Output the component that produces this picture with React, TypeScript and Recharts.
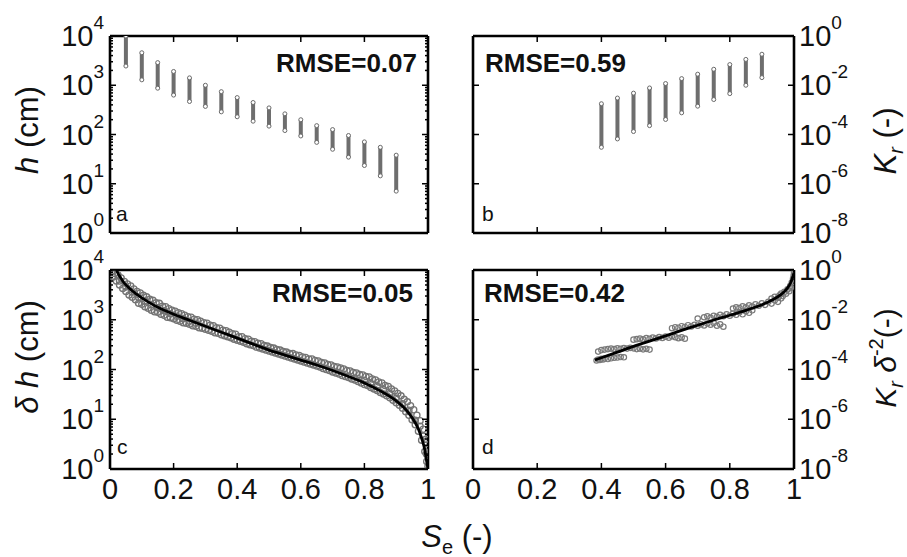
import React from 'react';
import { ComposedChart, Scatter, XAxis, YAxis } from 'recharts';

const FONT = '"Liberation Sans", Arial, Helvetica, sans-serif';

// ---- axis ticks ----
const seTicks = [0, 0.2, 0.4, 0.6, 0.8, 1];
const hDecades = [0, 1, 2, 3, 4];
const minorOffsets = [0.301, 0.477, 0.602, 0.699, 0.778, 0.845, 0.903, 0.954];
const krDecades = [-8, -6, -4, -2, 0];

// ---- panel a: h (log10 cm) vs Se, one column of points per Se ----
const aSe = [0.05, 0.1, 0.15, 0.2, 0.25, 0.3, 0.35, 0.4, 0.45, 0.5, 0.55, 0.6, 0.65, 0.7, 0.75, 0.8, 0.85, 0.9];
const aLogHigh = [4.0, 3.66, 3.46, 3.28, 3.15, 3.0, 2.87, 2.75, 2.65, 2.54, 2.42, 2.3, 2.18, 2.1, 1.98, 1.85, 1.74, 1.58];
const aLogLow = [3.39, 3.11, 2.94, 2.8, 2.67, 2.57, 2.46, 2.36, 2.27, 2.17, 2.08, 1.97, 1.84, 1.7, 1.54, 1.37, 1.16, 0.85];

// ---- panel b: Kr (log10) vs Se ----
const bSe = [0.4, 0.45, 0.5, 0.55, 0.6, 0.65, 0.7, 0.75, 0.8, 0.85, 0.9];
const bLogHigh = [-2.75, -2.52, -2.32, -2.11, -1.93, -1.73, -1.55, -1.35, -1.16, -0.95, -0.74];
const bLogLow = [-4.52, -4.18, -3.88, -3.64, -3.39, -3.12, -2.85, -2.58, -2.34, -2.0, -1.69];

// ---- panel c: scaled points [Se, log10(δh)] and fitted curve ----
const cPoints: number[][] = [
  [0.005, 3.97], [0.01, 3.86], [0.015, 3.93], [0.02, 3.78], [0.025, 3.9], [0.03, 3.7], [0.035, 3.84], [0.04, 3.63],
  [0.045, 3.77], [0.05, 3.57], [0.055, 3.72], [0.06, 3.5], [0.065, 3.68], [0.07, 3.45], [0.075, 3.62], [0.08, 3.4],
  [0.085, 3.57], [0.09, 3.33], [0.095, 3.54], [0.1, 3.31], [0.105, 3.49], [0.11, 3.26], [0.115, 3.46], [0.12, 3.23],
  [0.125, 3.41], [0.13, 3.19], [0.135, 3.39], [0.14, 3.16], [0.145, 3.34], [0.15, 3.15], [0.155, 3.33], [0.16, 3.11],
  [0.165, 3.27], [0.17, 3.09], [0.175, 3.26], [0.18, 3.05], [0.185, 3.22], [0.19, 3.04], [0.195, 3.19], [0.2, 3.02],
  [0.205, 3.17], [0.21, 2.99], [0.215, 3.14], [0.22, 2.97], [0.225, 3.12], [0.23, 2.94], [0.235, 3.09], [0.24, 2.93],
  [0.245, 3.06], [0.25, 2.91], [0.255, 3.05], [0.26, 2.88], [0.265, 3.01], [0.27, 2.87], [0.275, 3.0], [0.28, 2.84],
  [0.285, 2.97], [0.29, 2.83], [0.295, 2.94], [0.3, 2.81], [0.305, 2.93], [0.31, 2.79], [0.315, 2.89], [0.32, 2.77],
  [0.325, 2.88], [0.33, 2.74], [0.335, 2.84], [0.34, 2.73], [0.345, 2.83], [0.35, 2.7], [0.355, 2.79], [0.36, 2.68],
  [0.365, 2.78], [0.37, 2.66], [0.375, 2.75], [0.38, 2.64], [0.385, 2.72], [0.39, 2.61], [0.395, 2.71], [0.4, 2.59],
  [0.405, 2.66], [0.41, 2.57], [0.415, 2.66], [0.42, 2.55], [0.425, 2.62], [0.43, 2.52], [0.435, 2.61], [0.44, 2.5],
  [0.445, 2.57], [0.45, 2.48], [0.455, 2.56], [0.46, 2.45], [0.465, 2.53], [0.47, 2.43], [0.475, 2.52], [0.48, 2.41],
  [0.485, 2.48], [0.49, 2.39], [0.495, 2.47], [0.5, 2.37], [0.505, 2.44], [0.51, 2.35], [0.515, 2.43], [0.52, 2.33],
  [0.525, 2.4], [0.53, 2.31], [0.535, 2.39], [0.54, 2.29], [0.545, 2.36], [0.55, 2.27], [0.555, 2.35], [0.56, 2.25],
  [0.565, 2.32], [0.57, 2.23], [0.575, 2.32], [0.58, 2.21], [0.585, 2.29], [0.59, 2.19], [0.595, 2.28], [0.6, 2.17],
  [0.605, 2.25], [0.61, 2.15], [0.615, 2.24], [0.62, 2.13], [0.625, 2.21], [0.63, 2.11], [0.635, 2.21], [0.64, 2.09],
  [0.645, 2.18], [0.65, 2.07], [0.655, 2.17], [0.66, 2.05], [0.665, 2.14], [0.67, 2.02], [0.675, 2.13], [0.68, 2.0],
  [0.685, 2.1], [0.69, 1.98], [0.695, 2.09], [0.7, 1.95], [0.705, 2.06], [0.71, 1.93], [0.715, 2.05], [0.72, 1.91],
  [0.725, 2.03], [0.73, 1.88], [0.735, 2.01], [0.74, 1.86], [0.745, 1.98], [0.75, 1.84], [0.755, 1.97], [0.76, 1.81],
  [0.765, 1.94], [0.77, 1.79], [0.775, 1.93], [0.78, 1.76], [0.785, 1.9], [0.79, 1.73], [0.795, 1.89], [0.8, 1.7],
  [0.805, 1.86], [0.81, 1.68], [0.815, 1.85], [0.82, 1.64], [0.825, 1.81], [0.83, 1.61], [0.835, 1.79], [0.84, 1.58],
  [0.845, 1.75], [0.85, 1.54], [0.855, 1.73], [0.86, 1.51], [0.865, 1.68], [0.87, 1.47], [0.875, 1.66], [0.88, 1.43],
  [0.885, 1.61], [0.89, 1.38], [0.895, 1.57], [0.9, 1.33], [0.905, 1.52], [0.91, 1.28], [0.915, 1.47], [0.92, 1.22],
  [0.925, 1.4], [0.93, 1.15], [0.935, 1.35], [0.94, 1.08], [0.945, 1.27], [0.95, 0.99], [0.955, 1.19], [0.96, 0.89],
  [0.965, 1.08], [0.97, 0.76], [0.975, 0.97], [0.98, 0.58], [0.985, 0.8], [0.99, 0.35], [0.993, 0.6], [0.996, 0.15],
  [0.998, 0.4], [1.0, 0.05],
  [0.03, 3.78], [0.05, 3.66], [0.07, 3.56], [0.09, 3.45], [0.11, 3.37], [0.13, 3.3], [0.15, 3.24], [0.17, 3.18],
  [0.19, 3.12], [0.21, 3.07], [0.23, 3.02], [0.25, 2.97], [0.27, 2.93], [0.8, 1.78], [0.82, 1.72], [0.84, 1.66],
  [0.86, 1.6], [0.88, 1.52], [0.9, 1.42], [0.92, 1.31], [0.94, 1.18], [0.96, 0.98], [0.975, 0.86], [0.985, 0.66], [0.995, 0.3],
];
const cFit: number[][] = [
  [0.02, 4.0], [0.03, 3.88], [0.04, 3.78], [0.05, 3.7], [0.06, 3.64], [0.08, 3.53], [0.1, 3.44], [0.125, 3.34],
  [0.15, 3.25], [0.175, 3.18], [0.2, 3.11], [0.25, 2.99], [0.3, 2.87], [0.35, 2.75], [0.4, 2.63], [0.45, 2.51],
  [0.5, 2.39], [0.55, 2.29], [0.6, 2.19], [0.65, 2.09], [0.7, 1.98], [0.75, 1.86], [0.8, 1.73], [0.85, 1.57],
  [0.88, 1.46], [0.9, 1.37], [0.92, 1.26], [0.94, 1.12], [0.96, 0.93], [0.97, 0.8], [0.98, 0.62], [0.99, 0.38],
  [0.995, 0.18], [1.0, 0.0],
];

// ---- panel d: scaled points [Se, log10(Kr δ^-2)] and fitted curve ----
const dPoints: number[][] = [
  [0.385, -3.64], [0.39, -3.6], [0.395, -3.62], [0.4, -3.57], [0.405, -3.6], [0.41, -3.56], [0.42, -3.58], [0.43, -3.55],
  [0.44, -3.53], [0.45, -3.52], [0.46, -3.5], [0.47, -3.51],
  [0.39, -3.28], [0.4, -3.22], [0.41, -3.2], [0.42, -3.18], [0.43, -3.16], [0.44, -3.18], [0.45, -3.15], [0.46, -3.17],
  [0.47, -3.14], [0.48, -3.16], [0.49, -3.13], [0.5, -3.15], [0.51, -3.18], [0.52, -3.16], [0.53, -3.19], [0.54, -3.17], [0.55, -3.2],
  [0.5, -2.8], [0.51, -2.78], [0.52, -2.76], [0.53, -2.79], [0.54, -2.74], [0.55, -2.77], [0.56, -2.72], [0.57, -2.75],
  [0.58, -2.7], [0.59, -2.73], [0.6, -2.68], [0.61, -2.72], [0.62, -2.66], [0.63, -2.7], [0.64, -2.74], [0.65, -2.71], [0.66, -2.76],
  [0.62, -2.34], [0.63, -2.3], [0.64, -2.32], [0.65, -2.26], [0.66, -2.29], [0.67, -2.22], [0.68, -2.27], [0.69, -2.2],
  [0.7, -2.24], [0.71, -2.18], [0.72, -2.23], [0.73, -2.15], [0.74, -2.2], [0.75, -2.13], [0.76, -2.24], [0.77, -2.18], [0.78, -2.28],
  [0.7, -1.95], [0.72, -1.9], [0.73, -1.86], [0.74, -1.92], [0.75, -1.84], [0.76, -1.88], [0.77, -1.8], [0.78, -1.86],
  [0.79, -1.78], [0.8, -1.84], [0.81, -1.75], [0.82, -1.8], [0.83, -1.7], [0.84, -1.78], [0.85, -1.66], [0.86, -1.72], [0.87, -1.62],
  [0.81, -1.55], [0.82, -1.5], [0.83, -1.53], [0.84, -1.46], [0.85, -1.5], [0.86, -1.42], [0.87, -1.47], [0.88, -1.38],
  [0.89, -1.44], [0.9, -1.34], [0.91, -1.4], [0.92, -1.28], [0.93, -1.35], [0.94, -1.22], [0.95, -1.28], [0.96, -1.14],
  [0.93, -1.15], [0.94, -1.08], [0.95, -1.12], [0.955, -1.02], [0.96, -0.95], [0.965, -1.05], [0.97, -0.88], [0.975, -0.95],
  [0.98, -0.78], [0.985, -0.85], [0.988, -0.65], [0.99, -0.72], [0.993, -0.5], [0.995, -0.58], [0.997, -0.35], [0.999, -0.22], [1.0, -0.1],
];
const dFit: number[][] = [
  [0.38, -3.62], [0.45, -3.3], [0.5, -3.07], [0.55, -2.86], [0.6, -2.65], [0.65, -2.43], [0.7, -2.22], [0.75, -2.01],
  [0.8, -1.82], [0.85, -1.62], [0.9, -1.4], [0.93, -1.22], [0.96, -0.98], [0.98, -0.72], [0.99, -0.5], [1.0, -0.12],
];

const hTicks = [...hDecades, ...hDecades.slice(0, 4).flatMap((d) => minorOffsets.map((m) => d + m))];

const isMajor = (v: number) => Math.abs(v - Math.round(v)) < 1e-6;
const expText = (v: number) => String(Math.round(v));

const TICK = 6;
const MINOR = 3;

const makeYTick = (side: 'left' | 'right', labels: boolean) => (p: any) => {
  const { x, y, payload } = p;
  const v = payload.value as number;
  const major = isMajor(v);
  const len = major ? TICK : MINOR;
  const dir = side === 'left' ? 1 : -1;
  return (
    <g>
      <line x1={x} x2={x + dir * len} y1={y} y2={y} stroke="#000" strokeWidth={1.5} />
      {labels && major && (
        <text
          x={side === 'left' ? x - 6 : x + 5}
          y={y + 10}
          textAnchor={side === 'left' ? 'end' : 'start'}
          fontFamily={FONT}
          fontSize={29}
          fill="#111"
        >
          10
          <tspan dy={-17} fontSize={19}>
            {expText(v)}
          </tspan>
        </text>
      )}
    </g>
  );
};

const makeXTick = (side: 'top' | 'bottom', labels: boolean) => (p: any) => {
  const { x, y, payload } = p;
  const dir = side === 'bottom' ? -1 : 1;
  return (
    <g>
      <line x1={x} x2={x} y1={y} y2={y + dir * TICK} stroke="#000" strokeWidth={1.5} />
      {labels && (
        <text x={x} y={y + 30} textAnchor="middle" fontFamily={FONT} fontSize={29} fill="#111">
          {String(payload.value)}
        </text>
      )}
    </g>
  );
};

const noShape = () => <g />;
const stripeEnd = (p: any) => (
  <circle cx={p.cx} cy={p.cy} r={2} fill="#fff" stroke="#6a6a6a" strokeWidth={1} />
);
const hollowC = (p: any) => (
  <circle cx={p.cx} cy={p.cy} r={3.1} fill="none" stroke="#737373" strokeWidth={1.3} />
);
const hollowD = (p: any) => (
  <circle cx={p.cx} cy={p.cy} r={2.7} fill="none" stroke="#7a7a7a" strokeWidth={1.2} />
);

type PanelProps = {
  left: number;
  top: number;
  width: number;
  height: number;
  wl: number;
  wr: number;
  ht: number;
  hb: number;
  yDomain: [number, number];
  yTicks: number[];
  labelSide: 'left' | 'right';
  xLabels: boolean;
  children: React.ReactNode;
};

const axisLine = { stroke: '#000', strokeWidth: 2.6 };

function Panel(props: PanelProps) {
  const { left, top, width, height, wl, wr, ht, hb, yDomain, yTicks, labelSide, xLabels, children } = props;
  return (
    <div style={{ position: 'absolute', left, top, width, height }}>
      <ComposedChart width={width} height={height} margin={{ top: 0, right: 0, bottom: 0, left: 0 }}>
        <XAxis
          xAxisId="b"
          dataKey="x"
          type="number"
          domain={[0, 1]}
          ticks={seTicks}
          interval={0}
          orientation="bottom"
          height={hb}
          tickSize={0}
          tickMargin={0}
          tickLine={false}
          axisLine={axisLine}
          tick={makeXTick('bottom', xLabels)}
          allowDataOverflow
        />
        <XAxis
          xAxisId="t"
          dataKey="x"
          type="number"
          domain={[0, 1]}
          ticks={seTicks}
          interval={0}
          orientation="top"
          height={ht}
          tickSize={0}
          tickMargin={0}
          tickLine={false}
          axisLine={axisLine}
          tick={makeXTick('top', false)}
          allowDataOverflow
        />
        <YAxis
          yAxisId="l"
          dataKey="y"
          type="number"
          domain={yDomain}
          ticks={yTicks}
          interval={0}
          orientation="left"
          width={wl}
          tickSize={0}
          tickMargin={0}
          tickLine={false}
          axisLine={axisLine}
          tick={makeYTick('left', labelSide === 'left')}
          allowDataOverflow
        />
        <YAxis
          yAxisId="r"
          dataKey="y"
          type="number"
          domain={yDomain}
          ticks={yTicks}
          interval={0}
          orientation="right"
          width={wr}
          tickSize={0}
          tickMargin={0}
          tickLine={false}
          axisLine={axisLine}
          tick={makeYTick('right', labelSide === 'right')}
          allowDataOverflow
        />
        <Scatter
          xAxisId="t"
          yAxisId="r"
          data={[{ x: 0.5, y: (yDomain[0] + yDomain[1]) / 2 }]}
          shape={noShape}
          isAnimationActive={false}
        />
        {children}
      </ComposedChart>
    </div>
  );
}

function stripes(se: number[], lo: number[], hi: number[]) {
  return se.map((s, i) => (
    <Scatter
      key={'s' + i}
      xAxisId="b"
      yAxisId="l"
      data={[
        { x: s, y: lo[i] },
        { x: s, y: hi[i] },
      ]}
      line={{ stroke: '#6e6e6e', strokeWidth: 4 }}
      shape={stripeEnd}
      isAnimationActive={false}
    />
  ));
}

function scatterWithFit(points: number[][], fit: number[][], shape: any) {
  return [
    <Scatter
      key="pts"
      xAxisId="b"
      yAxisId="l"
      data={points.map((p) => ({ x: p[0], y: p[1] }))}
      shape={shape}
      isAnimationActive={false}
    />,
    <Scatter
      key="fit"
      xAxisId="b"
      yAxisId="l"
      data={fit.map((p) => ({ x: p[0], y: p[1] }))}
      line={{ stroke: '#000', strokeWidth: 2.8 }}
      lineJointType="monotoneX"
      shape={noShape}
      isAnimationActive={false}
    />,
  ];
}

export default function App() {
  const t = { fontFamily: FONT, fill: '#111' };
  return (
    <div style={{ position: 'absolute', left: 0, top: 0, width: 907, height: 557, background: '#fff', overflow: 'hidden' }}>
      <Panel left={0} top={0} width={453} height={260} wl={110} wr={25} ht={36} hb={27}
        yDomain={[0, 4]} yTicks={hTicks} labelSide="left" xLabels={false}>
        {stripes(aSe, aLogLow, aLogHigh)}
      </Panel>
      <Panel left={453} top={0} width={454} height={260} wl={20} wr={113} ht={36} hb={27}
        yDomain={[-8, 0]} yTicks={krDecades} labelSide="right" xLabels={false}>
        {stripes(bSe, bLogLow, bLogHigh)}
      </Panel>
      <Panel left={0} top={236} width={453} height={275} wl={110} wr={25} ht={34} hb={42}
        yDomain={[0, 4]} yTicks={hTicks} labelSide="left" xLabels={true}>
        {scatterWithFit(cPoints, cFit, hollowC)}
      </Panel>
      <Panel left={453} top={236} width={454} height={275} wl={20} wr={113} ht={34} hb={42}
        yDomain={[-8, 0]} yTicks={krDecades} labelSide="right" xLabels={true}>
        {scatterWithFit(dPoints, dFit, hollowD)}
      </Panel>

      <svg width={907} height={557} style={{ position: 'absolute', left: 0, top: 0, pointerEvents: 'none' }}>
        <text x={417} y={72} textAnchor="end" fontSize={26} fontWeight="bold" {...t}>RMSE=0.07</text>
        <text x={485} y={72} fontSize={26} fontWeight="bold" {...t}>RMSE=0.59</text>
        <text x={413} y={302} textAnchor="end" fontSize={26} fontWeight="bold" {...t}>RMSE=0.05</text>
        <text x={484} y={302} fontSize={26} fontWeight="bold" {...t}>RMSE=0.42</text>

        <text x={116} y={221} fontSize={21} {...t}>a</text>
        <text x={482} y={221} fontSize={21} {...t}>b</text>
        <text x={117} y={454} fontSize={21} {...t}>c</text>
        <text x={482} y={454} fontSize={21} {...t}>d</text>

        <text transform="translate(38,130) rotate(-90)" textAnchor="middle" fontSize={31} {...t}>
          <tspan fontStyle="italic">h</tspan> (cm)
        </text>
        <text transform="translate(38,357) rotate(-90)" textAnchor="middle" fontSize={31} {...t}>
          <tspan fontStyle="italic">δ h</tspan> (cm)
        </text>
        <text transform="translate(896,141) rotate(-90)" textAnchor="middle" fontSize={31} {...t}>
          <tspan fontStyle="italic">K</tspan>
          <tspan fontStyle="italic" fontSize={20} dy={7}>r</tspan>
          <tspan dy={-7}> (-)</tspan>
        </text>
        <text transform="translate(896,358) rotate(-90)" textAnchor="middle" fontSize={30} {...t}>
          <tspan fontStyle="italic">K</tspan>
          <tspan fontStyle="italic" fontSize={20} dy={7}>r</tspan>
          <tspan fontStyle="italic" dy={-7}> δ</tspan>
          <tspan fontSize={20} dy={-13}>-2</tspan>
          <tspan dy={13}>(-)</tspan>
        </text>
        <text x={457} y={547} textAnchor="middle" fontSize={31} {...t}>
          <tspan fontStyle="italic">S</tspan>
          <tspan fontSize={20} dy={7}>e</tspan>
          <tspan dy={-7}> (-)</tspan>
        </text>
      </svg>
    </div>
  );
}
